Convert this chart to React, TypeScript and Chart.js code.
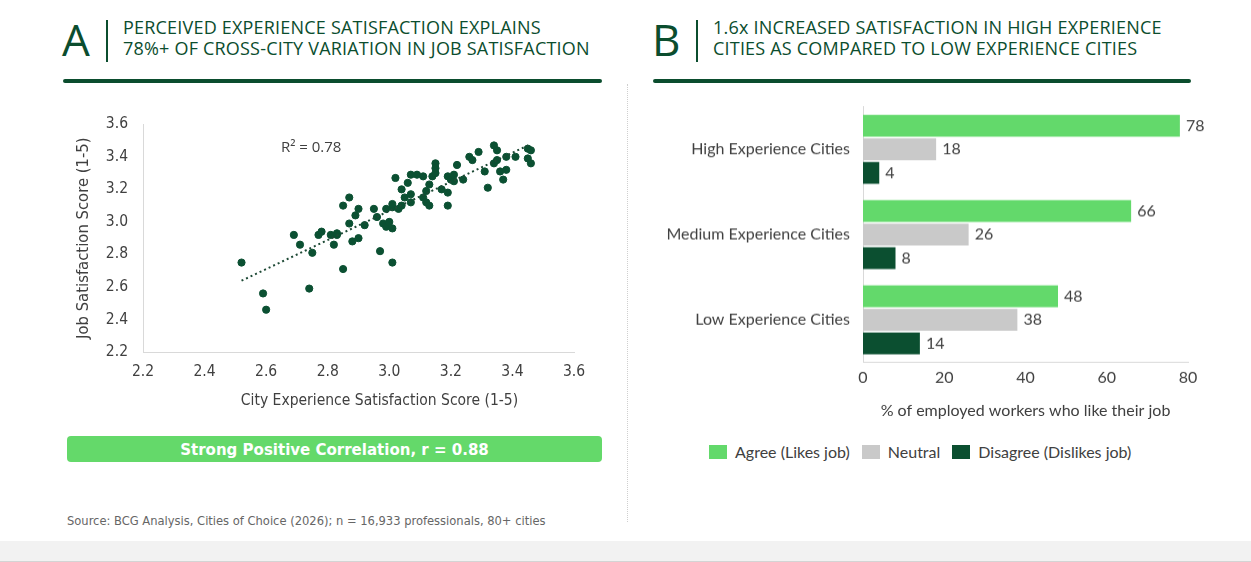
import React, { useEffect, useRef } from "react";
import { Chart, registerables } from "chart.js";

Chart.register(...registerables);

// ---------- DATA ----------
const cityExperience = [
  2.52, 2.59, 2.60, 2.69, 2.71, 2.75, 2.74, 2.77, 2.78, 2.81,
  2.83, 2.83, 2.82, 2.85, 2.87, 2.85, 2.90, 2.89, 2.87, 2.92,
  2.88, 2.90, 2.95, 2.96, 2.98, 2.99, 3.01, 3.00, 2.97, 3.01,
  2.99, 3.01, 3.01, 3.02, 3.03, 3.04, 3.04, 3.05, 3.06, 3.07,
  3.07, 3.07, 3.09, 3.11, 3.11, 3.12, 3.12, 3.13, 3.13, 3.14,
  3.15, 3.15, 3.15, 3.17, 3.19, 3.19, 3.19, 3.20, 3.21, 3.21,
  3.22, 3.24, 3.26, 3.27, 3.29, 3.31, 3.32, 3.34, 3.35, 3.38,
  3.41, 3.45, 3.46, 3.45, 3.46, 3.34, 3.35, 3.36, 3.38, 3.37,
];
const jobSatisfaction = [
  2.75, 2.56, 2.46, 2.92, 2.86, 2.81, 2.59, 2.92, 2.94, 2.92,
  2.92, 2.93, 2.86, 2.71, 3.15, 3.10, 3.08, 3.04, 2.99, 2.98,
  2.88, 2.90, 3.08, 3.03, 2.99, 2.97, 2.96, 3.00, 2.82, 2.75,
  3.08, 3.09, 3.11, 3.27, 3.08, 3.20, 3.10, 3.15, 3.24, 3.29,
  3.17, 3.12, 3.29, 3.28, 3.15, 3.19, 3.12, 3.10, 3.23, 3.28,
  3.30, 3.36, 3.33, 3.20, 3.10, 3.18, 3.28, 3.26, 3.25, 3.29,
  3.35, 3.26, 3.40, 3.38, 3.43, 3.31, 3.21, 3.47, 3.44, 3.40,
  3.40, 3.45, 3.44, 3.39, 3.36, 3.36, 3.38, 3.31, 3.32, 3.26,
];
const scatterMin = 2.2;
const scatterMax = 3.6;
const scatterStep = 0.2;
const rSquaredLabel = "R² = 0.78";
const rSquaredAt = { x: 2.648, y: 3.453 };
const scatterXTitle = "City Experience Satisfaction Score (1-5)";
const scatterYTitle = "Job Satisfaction Score (1-5)";

const categories = ["High Experience Cities", "Medium Experience Cities", "Low Experience Cities"];
const agree = [78, 66, 48];
const neutral = [18, 26, 38];
const disagree = [4, 8, 14];
const seriesNames = ["Agree (Likes job)", "Neutral", "Disagree (Dislikes job)"];
const barMax = 80;
const barStep = 20;
const barXTitle = "% of employed workers who like their job";

// ---------- STYLE ----------
const DARK = "#0b4d2e";
const POINT = "#0b5032";
const AGREE = "#63d96b";
const NEUTRAL = "#c9c9c9";
const DISAGREE = "#0b4f30";
const TEXT = "#404040";
const AXIS = "#d9d9d9";
const OPEN = "'Open Sans', sans-serif";
const COND = "'DejaVu Sans Condensed', 'DejaVu Sans', sans-serif";
const LATO = "Lato, sans-serif";

function regression(xs: number[], ys: number[]) {
  const n = xs.length;
  const mx = xs.reduce((a, b) => a + b, 0) / n;
  const my = ys.reduce((a, b) => a + b, 0) / n;
  let sxy = 0, sxx = 0;
  for (let i = 0; i < n; i++) {
    sxy += (xs[i] - mx) * (ys[i] - my);
    sxx += (xs[i] - mx) * (xs[i] - mx);
  }
  const slope = sxy / sxx;
  return { slope, intercept: my - slope * mx };
}

function ScatterChart() {
  const ref = useRef<HTMLCanvasElement | null>(null);
  useEffect(() => {
    if (!ref.current) return;
    const pts = cityExperience.map((x, i) => ({ x, y: jobSatisfaction[i] }));
    const { slope, intercept } = regression(cityExperience, jobSatisfaction);
    const x0 = Math.min(...cityExperience);
    const x1 = Math.max(...cityExperience);
    const trend = [
      { x: x0, y: intercept + slope * x0 },
      { x: x1, y: intercept + slope * x1 },
    ];
    const textPlugin = {
      id: "scatterText",
      afterDraw(chart: any) {
        const { ctx, scales, chartArea } = chart;
        ctx.save();
        ctx.fillStyle = TEXT;
        ctx.textBaseline = "middle";
        ctx.textAlign = "left";
        ctx.font = `15px ${OPEN}`;
        ctx.fillText(rSquaredLabel, scales.x.getPixelForValue(rSquaredAt.x), scales.y.getPixelForValue(rSquaredAt.y));
        ctx.textAlign = "center";
        ctx.font = `15.5px ${COND}`;
        ctx.fillText(scatterXTitle, (chartArea.left + chartArea.right) / 2 + 21, chartArea.bottom + 49);
        ctx.restore();
      },
    };
    const chart = new Chart(ref.current, {
      type: "scatter",
      data: {
        datasets: [
          {
            type: "line",
            data: trend,
            borderColor: "#1e4a36",
            borderWidth: 2,
            borderDash: [2, 3],
            pointRadius: 0,
            fill: false,
          } as any,
          {
            type: "scatter",
            data: pts,
            backgroundColor: POINT,
            borderColor: POINT,
            pointRadius: 3.6,
            pointHoverRadius: 3.6,
          },
        ],
      },
      options: {
        animation: false,
        responsive: true,
        maintainAspectRatio: false,
        layout: { padding: { top: 24, right: 26, left: 0, bottom: 0 } },
        plugins: { legend: { display: false }, tooltip: { enabled: false } },
        scales: {
          x: {
            type: "linear",
            min: scatterMin,
            max: scatterMax,
            grid: { display: false, drawTicks: false },
            border: { display: true, color: AXIS, width: 1 },
            ticks: {
              stepSize: scatterStep,
              padding: 11,
              color: TEXT,
              font: { family: COND, size: 15.5 },
              callback: (v: any) => Number(v).toFixed(1),
            },
            title: { display: false },
            afterFit: (s: any) => { s.height = 78; },
          },
          y: {
            type: "linear",
            min: scatterMin,
            max: scatterMax,
            grid: { display: false, drawTicks: false },
            border: { display: true, color: AXIS, width: 1 },
            ticks: {
              stepSize: scatterStep,
              padding: 15,
              color: TEXT,
              font: { family: COND, size: 15.5 },
              callback: (v: any) => Number(v).toFixed(1),
            },
            title: {
              display: true,
              text: scatterYTitle,
              color: TEXT,
              font: { family: COND, size: 16.5 },
              padding: { top: 14.1, bottom: 4 },
            },
            afterFit: (s: any) => { s.width = 83; },
          },
        },
      },
      plugins: [textPlugin],
    });
    return () => chart.destroy();
  }, []);
  return (
    <div style={{ position: "absolute", left: 60, top: 100, width: 540, height: 330 }}>
      <canvas ref={ref} />
    </div>
  );
}

function BarChart() {
  const ref = useRef<HTMLCanvasElement | null>(null);
  useEffect(() => {
    if (!ref.current) return;
    const labelPlugin = {
      id: "barlabels",
      afterDatasetsDraw(chart: any) {
        const { ctx } = chart;
        ctx.save();
        ctx.font = `16px ${LATO}`;
        ctx.fillStyle = TEXT;
        ctx.textBaseline = "middle";
        ctx.textAlign = "left";
        chart.data.datasets.forEach((ds: any, di: number) => {
          const meta = chart.getDatasetMeta(di);
          meta.data.forEach((bar: any, i: number) => {
            ctx.fillText(String(ds.data[i]), bar.x + 6, bar.y);
          });
        });
        ctx.restore();
      },
    };
    const common = { categoryPercentage: 0.83, barPercentage: 0.92, borderWidth: 0 };
    const chart = new Chart(ref.current, {
      type: "bar",
      data: {
        labels: categories,
        datasets: [
          { label: seriesNames[0], data: agree, backgroundColor: AGREE, ...common },
          { label: seriesNames[1], data: neutral, backgroundColor: NEUTRAL, ...common },
          { label: seriesNames[2], data: disagree, backgroundColor: DISAGREE, ...common },
        ],
      },
      options: {
        animation: false,
        responsive: true,
        maintainAspectRatio: false,
        indexAxis: "y",
        layout: { padding: { top: 0, right: 24, left: 0, bottom: 0 } },
        plugins: { legend: { display: false }, tooltip: { enabled: false } },
        scales: {
          x: {
            min: 0,
            max: barMax,
            grid: { display: false, drawTicks: false },
            border: { display: true, color: AXIS, width: 1 },
            ticks: { stepSize: barStep, padding: 5.4, color: TEXT, font: { family: LATO, size: 16 } },
            title: {
              display: true,
              text: barXTitle,
              color: TEXT,
              font: { family: LATO, size: 16 },
              padding: { top: 4, bottom: 10.4 },
            },
            afterFit: (s: any) => { s.height = 68; },
          },
          y: {
            grid: { display: false, drawTicks: false },
            border: { display: true, color: AXIS, width: 1 },
            ticks: { padding: 13, color: TEXT, font: { family: LATO, size: 16 } },
            afterFit: (s: any) => { s.width = 211; },
          },
        },
      },
      plugins: [labelPlugin],
    });
    return () => chart.destroy();
  }, []);
  return (
    <div style={{ position: "absolute", left: 652, top: 84.4, width: 560, height: 345.6 }}>
      <canvas ref={ref} />
    </div>
  );
}

function Header({ left, letter, lines, width }: { left: number; letter: string; lines: string[]; width: number }) {
  return (
    <>
      <div
        style={{
          position: "absolute", left: left - 1, top: 17, fontSize: 44, lineHeight: "44px",
          color: DARK, fontFamily: OPEN, fontWeight: 500,
        }}
      >
        {letter}
      </div>
      <div style={{ position: "absolute", left: left + 43, top: 20, width: 2, height: 42, background: DARK }} />
      <div
        style={{
          position: "absolute", left: left + 60, top: 16.5, fontSize: 18, lineHeight: "21px",
          color: DARK, fontFamily: OPEN, fontWeight: 500, whiteSpace: "nowrap", letterSpacing: 0.2,
        }}
      >
        {lines.map((l, i) => (<div key={i}>{l}</div>))}
      </div>
      <div style={{ position: "absolute", left, top: 79, width, height: 4, borderRadius: 2, background: DARK }} />
    </>
  );
}

function Legend() {
  const colors = [AGREE, NEUTRAL, DISAGREE];
  return (
    <div
      style={{
        position: "absolute", left: 709, top: 441.5, display: "flex", alignItems: "center",
        fontFamily: LATO, fontSize: 16, color: TEXT, whiteSpace: "nowrap", height: 20,
      }}
    >
      {seriesNames.map((n, i) => (
        <div key={n} style={{ display: "flex", alignItems: "center", marginRight: 12 }}>
          <div style={{ width: 18, height: 14, background: colors[i], marginRight: 8 }} />
          <span>{n}</span>
        </div>
      ))}
    </div>
  );
}

export default function App() {
  return (
    <div
      style={{
        position: "absolute", left: 0, top: 0, width: 1251, height: 562, background: "#ffffff",
        overflow: "hidden", fontFamily: OPEN,
      }}
    >
      <Header
        left={63}
        letter="A"
        width={539}
        lines={["PERCEIVED EXPERIENCE SATISFACTION EXPLAINS", "78%+ OF CROSS-CITY VARIATION IN JOB SATISFACTION"]}
      />
      <Header
        left={653}
        letter="B"
        width={538}
        lines={["1.6x INCREASED SATISFACTION IN HIGH EXPERIENCE", "CITIES AS COMPARED TO LOW EXPERIENCE CITIES"]}
      />
      <div style={{ position: "absolute", left: 627, top: 84, height: 438, borderLeft: "1px dotted #cfcfcf" }} />
      <ScatterChart />
      <div
        style={{
          position: "absolute", left: 67, top: 436, width: 535, height: 26, borderRadius: 4,
          background: "#64d96a", color: "#ffffff", fontFamily: COND,
          fontWeight: 700, fontSize: 16.7, lineHeight: "26px", textAlign: "center",
        }}
      >
        Strong Positive Correlation, r = 0.88
      </div>
      <div
        style={{
          position: "absolute", left: 67, top: 512, fontFamily: COND,
          fontSize: 12.8, color: "#666666", whiteSpace: "nowrap", lineHeight: "18px",
        }}
      >
        Source: BCG Analysis, Cities of Choice (2026); n = 16,933 professionals, 80+ cities
      </div>
      <BarChart />
      <Legend />
      <div
        style={{
          position: "absolute", left: 0, top: 541, width: 1251, height: 21, background: "#f2f2f2",
          borderBottom: "1px solid #d4d4d4", boxSizing: "border-box",
        }}
      />
    </div>
  );
}
